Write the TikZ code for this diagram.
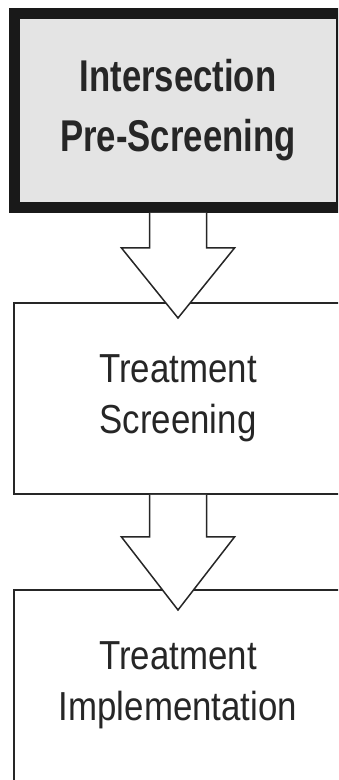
\documentclass[tikz,border=0pt]{standalone}
\usepackage{tikz}
\usepackage{xcolor}
\usepackage{fontspec}
\usetikzlibrary{calc}

\newfontfamily\stagefont{Liberation Sans}[FakeStretch=0.86]
\newfontfamily\headfont{Liberation Sans}[FakeStretch=0.78]

\definecolor{inkgray}{HTML}{262626}
\definecolor{boxgray}{HTML}{E4E4E4}

\begin{document}
\begin{tikzpicture}[x=1pt,y=1pt]
    \tikzstyle{H}=[rectangle,draw=black!90,line width=11pt,fill=boxgray,inner sep=0pt,
        minimum width=327pt,minimum height=194pt,align=center,text=inkgray,
        font=\headfont\bfseries\fontsize{44.5}{60}\selectfont]
    \tikzstyle{S}=[rectangle,draw=inkgray,line width=2pt,fill=white,inner sep=0pt,
        minimum width=328pt,minimum height=191pt,align=center,text=inkgray,
        font=\stagefont\fontsize{40.5}{50.5}\selectfont]
    \tikzstyle{A}=[draw=inkgray,line width=1.5pt,fill=white,line join=miter]

    \useasboundingbox (0,0) rectangle (338,780);
    \clip (0,0) rectangle (338,780);

    % Stages
    \node [H] (pre) at (178, 669.5) {Intersection\\Pre-Screening};
    \node [S] (scr) at (178, 381.5) {Treatment\\Screening};
    \node [S] (imp) at (178, 94.5) {Treatment\\Implementation};

    % Block arrows
    \draw [A] ([xshift=-28.5]pre.south) -- ++(0,-35) -- ++(-28,0)
        -- ([yshift=-16]scr.north) -- ++(56.5,70) -- ++(-28,0) -- ([xshift=28.5]pre.south);
    \draw [A] ([xshift=-28.5]scr.south) -- ++(0,-42) -- ++(-28,0)
        -- ([yshift=-21]imp.north) -- ++(56.5,73) -- ++(-28,0) -- ([xshift=28.5]scr.south);

\end{tikzpicture}
\end{document}
